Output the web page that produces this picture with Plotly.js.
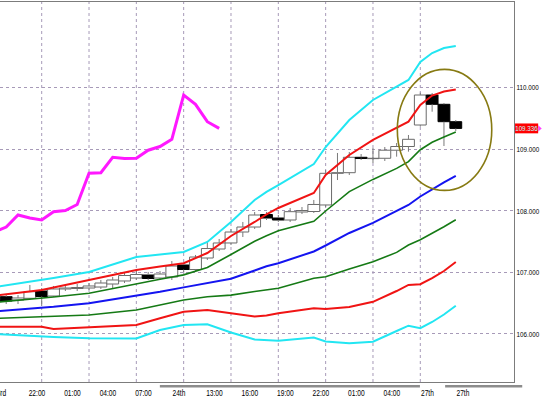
<!DOCTYPE html>
<html>
<head>
<meta charset="utf-8">
<script src="https://cdn.plot.ly/plotly-3.0.1.min.js"></script>
<style>html,body{margin:0;padding:0;background:#fff;}#chart{width:545px;height:399px;}</style>
</head>
<body>
<div id="chart"></div>
<script>
// ---- Candles (hourly), index 0..38 ----
const candleOpen  = [106.604,106.550,106.578,106.696,106.615,106.729,106.737,106.745,106.761,106.810,106.859,106.907,106.956,106.907,106.924,107.118,107.045,107.232,107.378,107.476,107.654,107.735,107.938,107.881,107.849,107.979,107.987,108.093,108.607,108.617,108.867,108.845,108.851,108.982,109.042,109.391,109.878,109.727,109.445];
const candleHigh  = [106.648,106.631,106.794,106.745,106.778,106.794,106.810,106.826,106.875,106.925,106.989,107.037,107.005,107.021,107.183,107.151,107.281,107.492,107.541,107.703,107.817,107.979,107.979,107.930,108.044,108.060,108.174,108.661,108.937,108.953,108.920,109.018,109.034,109.099,109.229,109.916,109.911,109.748,109.472];
const candleLow   = [106.485,106.485,106.550,106.453,106.599,106.696,106.696,106.713,106.729,106.729,106.826,106.875,106.875,106.875,106.875,107.005,107.021,107.200,107.346,107.443,107.573,107.703,107.849,107.817,107.817,107.946,107.963,108.060,108.498,108.580,108.823,108.774,108.807,108.877,108.958,109.364,109.607,109.050,109.294];
const candleClose = [106.534,106.583,106.685,106.607,106.729,106.745,106.753,106.778,106.826,106.875,106.948,106.964,106.899,106.972,107.102,107.045,107.248,107.386,107.476,107.654,107.735,107.930,107.881,107.849,107.984,108.003,108.101,108.607,108.617,108.867,108.847,108.851,108.982,109.042,109.159,109.878,109.727,109.445,109.336];
const CHIKOU_SHIFT = 20;

// ---- Bollinger-style bands, sampled at these candle indices ----
const bandX    = [-0.6,3,4,7,11,13,15,17,19,21,22,23,26,27,29,31,33,34,35,36,37,38];
const cyanUp   = [106.773,106.875,106.907,107.005,107.248,107.289,107.330,107.492,107.817,108.174,108.304,108.416,108.758,109.034,109.472,109.797,110.006,110.122,110.414,110.560,110.641,110.674];
const redUp    = [106.631,106.713,106.753,106.875,107.037,107.093,107.148,107.313,107.589,107.817,107.940,108.044,108.287,108.580,108.904,109.151,109.352,109.446,109.716,109.869,109.935,109.968];
const greenUp  = [106.518,106.578,106.599,106.661,106.820,106.888,106.958,107.078,107.289,107.505,107.593,107.675,107.828,107.995,108.310,108.508,108.687,108.797,108.990,109.110,109.196,109.279];
const blueMid  = [106.372,106.420,106.440,106.498,106.615,106.683,106.755,106.826,106.896,107.029,107.097,107.146,107.338,107.435,107.638,107.802,107.997,108.093,108.231,108.352,108.459,108.565];
const greenLow = [106.253,106.279,106.286,106.307,106.388,106.469,106.550,106.604,106.630,106.688,106.718,106.740,106.904,106.927,107.052,107.170,107.323,107.443,107.528,107.631,107.740,107.852];
const redLow   = [106.117,106.117,106.080,106.107,106.144,106.253,106.360,106.388,106.339,106.282,106.300,106.334,106.416,106.404,106.437,106.521,106.696,106.794,106.807,106.907,107.021,107.167];
const cyanLow  = [105.994,105.955,105.950,105.929,105.927,106.063,106.144,106.157,106.023,105.909,105.896,105.890,105.942,105.878,105.849,105.872,106.047,106.133,106.093,106.193,106.315,106.458];

// ---- Axis labels ----
const xTickLabels = ["3rd","22:00","01:00","04:00","07:00","24th","13:00","16:00","19:00","22:00","01:00","04:00","27th","27th"];
const yTickValues = [106,107,108,109,110];
const lastPrice = 109.336;

// ---- layout constants ----
const FONT = '"Liberation Sans",Arial,sans-serif';
const NARROW = 0.78;
const LABEL0 = -0.4, LABEL_STEP = 3;
const GRID0 = 3, GRID_STEP = 4, GRID_LAST = 35;
const XR = [-0.524, 42.92], YR = [105.219, 111.388];
const ellipse = {x0:33.06, x1:41.04, y0:108.33, y1:110.295};

const idx = candleOpen.map((_,i)=>i);

// wicks split around the body
const wx=[], wy=[];
idx.forEach(i=>{
  const top=Math.max(candleOpen[i],candleClose[i]), bot=Math.min(candleOpen[i],candleClose[i]);
  wx.push(i,i,null,i,i,null);
  wy.push(candleHigh[i],top,null,bot,candleLow[i],null);
});
const up = idx.map(i=>candleClose[i]>=candleOpen[i]);

const traces = [
  {type:'scatter',mode:'lines',x:wx,y:wy,line:{color:'#7a7a7a',width:1},hoverinfo:'skip'},
  {type:'bar',x:idx,base:idx.map(i=>Math.min(candleOpen[i],candleClose[i])),
   y:idx.map(i=>Math.max(Math.abs(candleClose[i]-candleOpen[i]),0.004)),width:1,
   marker:{color:up.map(u=>u?'#ffffff':'#000000'),line:{color:up.map(u=>u?'#6a6a6a':'#000000'),width:1}},hoverinfo:'skip'},
];
const bandStyles = [
  [cyanLow,'#22e6f2',2],[redLow,'#f01414',2],[greenLow,'#157a15',1.6],[blueMid,'#1414f0',2],
  [greenUp,'#157a15',1.6],[redUp,'#f01414',2],[cyanUp,'#22e6f2',2]
];
bandStyles.forEach(([ys,c,w])=>traces.push({type:'scatter',mode:'lines',x:bandX,y:ys,line:{color:c,width:w},hoverinfo:'skip'}));

// lagging span (close shifted back)
const chX=[], chY=[];
for(let i=CHIKOU_SHIFT-1;i<candleClose.length;i++){chX.push(i-CHIKOU_SHIFT);chY.push(candleClose[i]);}
traces.push({type:'scatter',mode:'lines',x:chX,y:chY,line:{color:'#ff18ff',width:3},hoverinfo:'skip'});

const shapes=[];
for(let g=GRID0; g<=GRID_LAST; g+=GRID_STEP){
  shapes.push({type:'line',xref:'x',yref:'paper',x0:g,x1:g,y0:0,y1:1,layer:'below',line:{color:'#a79ab8',width:1,dash:'dot'}});
}
shapes.push({type:'circle',xref:'x',yref:'y',x0:ellipse.x0,x1:ellipse.x1,y0:ellipse.y0,y1:ellipse.y1,line:{color:'#877a12',width:1.6}});
// scale bars under the axis
shapes.push({type:'line',xref:'paper',yref:'paper',x0:0.311,x1:0.817,y0:-0.011,y1:-0.011,line:{color:'#8c8c8c',width:2.5}});
shapes.push({type:'line',xref:'paper',yref:'paper',x0:0.866,x1:1.016,y0:-0.011,y1:-0.011,line:{color:'#8c8c8c',width:2.5}});
// red last-price box
shapes.push({type:'rect',xref:'paper',yref:'y',x0:1.002,x1:1.047,y0:lastPrice-0.08,y1:lastPrice+0.08,fillcolor:'#ff0000',line:{width:0}});
shapes.push({type:'path',xref:'paper',yref:'y',path:`M 1.047 ${lastPrice+0.05} L 1.054 ${lastPrice} L 1.047 ${lastPrice-0.05} Z`,fillcolor:'#ff40ff',line:{width:0}});

const layout = {
  width:545,height:399,margin:{l:0,r:31,t:2,b:17},
  paper_bgcolor:'#ffffff',plot_bgcolor:'#ffffff',showlegend:false,hovermode:false,
  xaxis:{range:XR,tickvals:xTickLabels.map((_,k)=>LABEL0+LABEL_STEP*k),ticktext:xTickLabels,
    showgrid:false,zeroline:false,showline:true,mirror:true,linecolor:'#7c7c7c',linewidth:1,ticks:'',
    ticklabelstandoff:3,ticklabeloverflow:'allow',tickfont:{family:FONT,size:8.5,color:'#000'}},
  yaxis:{range:YR,side:'right',tickvals:yTickValues,ticktext:yTickValues.map(v=>v.toFixed(3)),
    showgrid:true,gridcolor:'#a79ab8',griddash:'dot',gridwidth:1,zeroline:false,
    showline:true,mirror:true,linecolor:'#7c7c7c',linewidth:1,ticks:'',
    ticklabeloverflow:'allow',tickfont:{family:FONT,size:8,color:'#000'}},
  shapes:shapes,
  annotations:[{xref:'paper',yref:'y',x:1.0245,y:lastPrice,xanchor:'center',text:lastPrice.toFixed(3),
    showarrow:false,font:{family:FONT,size:8,color:'#b8ffff'}}]
};
Plotly.newPlot('chart',traces,layout,{staticPlot:true,displayModeBar:false}).then(gd=>{
  gd.querySelectorAll('.xtick text, .ytick text, .annotation-text').forEach(t=>{
    const w=t.getComputedTextLength();
    t.setAttribute('textLength',(w*NARROW).toFixed(1));
    t.setAttribute('lengthAdjust','spacingAndGlyphs');
  });
});
</script>
</body>
</html>
